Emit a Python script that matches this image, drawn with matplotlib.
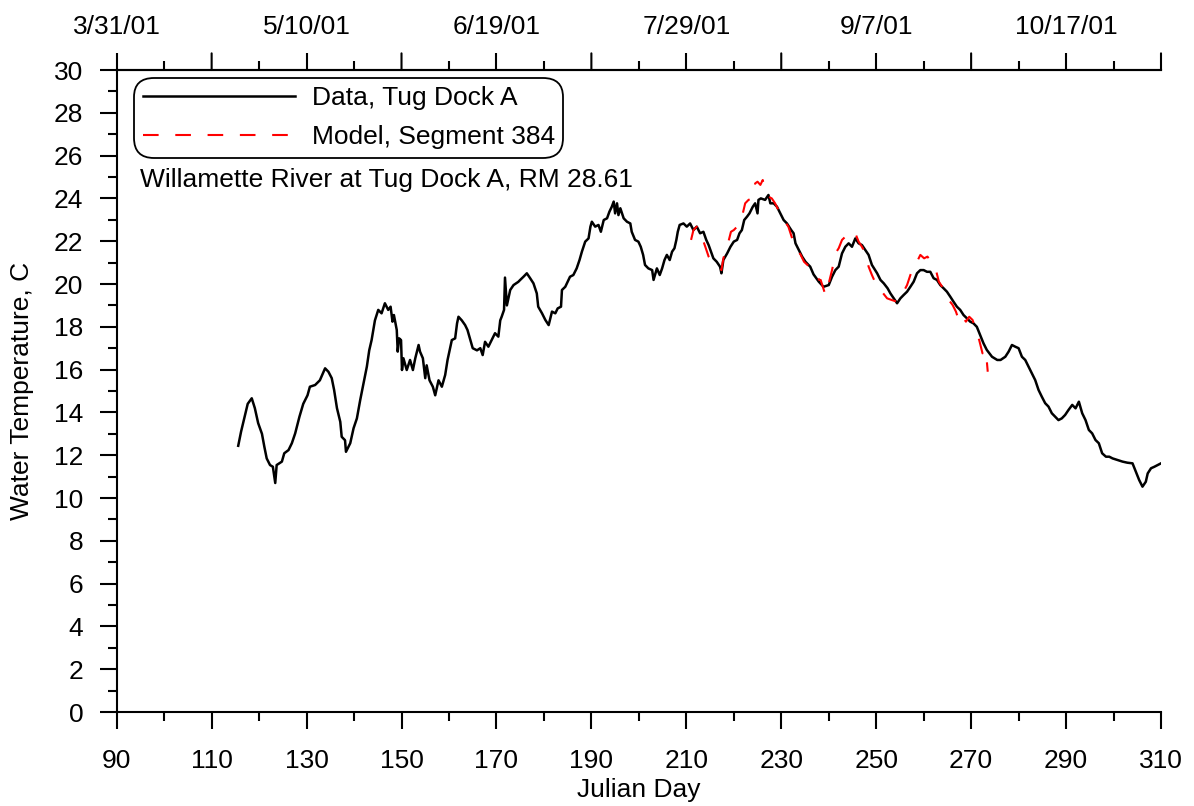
import matplotlib
matplotlib.use("Agg")
import matplotlib.pyplot as plt
from matplotlib.ticker import MultipleLocator, FixedLocator

plt.rcParams['font.family'] = ['Liberation Sans', 'DejaVu Sans']

# Observed data, Tug Dock A (Julian day, deg C)
data_day = [115.6, 116.2, 116.7, 117.2, 117.6, 118.45, 119.1, 119.8, 120.6, 121.1, 121.6, 122.3, 122.9, 123.4, 123.7,
            124.8, 125.3, 126.2, 126.9, 127.6, 128.5, 129.3, 130.2, 130.7, 131.8, 132.8, 133.9, 134.6, 135.3, 135.8,
            136.4, 137.1, 137.4, 138.1, 138.3, 139.2, 139.9, 140.6, 141.3, 142.0, 142.7, 143.2, 143.7, 144.4, 145.1,
            145.8, 146.5, 147.2, 147.7, 148.1, 148.4, 149.0, 149.2, 149.5, 149.9, 150.1, 150.4, 151.1, 151.8, 152.4,
            152.9, 153.6, 153.9, 154.5, 155.0, 155.3, 155.9, 156.6, 157.1, 157.8, 158.5, 159.2, 159.7, 160.6, 161.3,
            161.7, 162.0, 162.7, 163.4, 163.9, 164.5, 165.0, 165.9, 166.6, 167.1, 167.6, 168.3, 169.0, 169.7, 170.4,
            170.8, 171.1, 171.6, 171.8, 172.2, 172.9, 173.6, 174.6, 175.0, 175.7, 176.4, 177.1, 177.8, 178.5, 178.8,
            179.6, 180.3, 181.0, 181.7, 182.4, 182.9, 183.6, 183.8, 184.5, 185.5, 186.2, 186.9, 187.5, 188.0, 188.7,
            189.4, 189.8, 190.1, 190.8, 191.5, 192.0, 192.6, 193.3, 193.8, 194.3, 194.7, 195.0, 195.4, 195.7, 196.1,
            196.8, 197.5, 198.2, 198.5, 199.2, 199.9, 200.4, 200.9, 201.3, 202.0, 202.8, 203.1, 203.8, 204.4, 204.9,
            205.4, 205.9, 206.5, 207.0, 207.5, 207.9, 208.2, 208.6, 209.4, 210.1, 210.8, 211.5, 212.2, 212.9, 213.6,
            214.2, 214.7, 215.2, 215.7, 216.4, 217.1, 217.4, 217.8, 218.6, 219.3, 220.0, 220.7, 221.2, 221.7, 222.2,
            222.8, 223.3, 224.0, 224.5, 225.0, 225.2, 225.7, 226.6, 227.3, 227.7, 228.4, 229.1, 229.8, 230.5, 231.2,
            232.1, 232.6, 233.0, 233.7, 234.4, 235.1, 236.1, 236.8, 237.9, 238.9, 240.0, 240.7, 241.4, 242.1, 242.8,
            243.5, 244.2, 244.9, 245.6, 246.3, 247.0, 247.7, 248.4, 249.1, 250.2, 250.9, 251.6, 252.4, 253.0, 253.7,
            254.4, 255.1, 255.8, 256.5, 257.2, 257.9, 258.6, 259.3, 260.0, 260.7, 261.4, 262.1, 262.8, 263.5, 264.2,
            264.9, 265.6, 266.3, 267.0, 267.7, 268.4, 269.1, 269.8, 270.5, 271.2, 271.9, 272.6, 273.3, 274.4, 275.5,
            276.2, 277.2, 277.9, 278.6, 279.3, 280.0, 280.7, 281.4, 282.1, 282.8, 283.5, 284.2, 284.9, 285.6, 286.3,
            287.0, 287.7, 288.4, 289.1, 289.8, 290.5, 291.3, 292.0, 292.7, 293.4, 294.1, 294.8, 295.5, 296.2, 296.9,
            297.6, 298.4, 299.1, 299.8, 300.8, 301.9, 302.9, 304.0, 304.7, 305.4, 306.1, 306.8, 307.2, 307.9, 308.6,
            309.3, 310.0]
data_temp = [12.44, 13.1, 13.56, 14.03, 14.4, 14.66, 14.2, 13.5, 13.0, 12.4, 11.85, 11.54, 11.46, 10.7, 11.54,
             11.7, 12.09, 12.24, 12.56, 13.02, 13.8, 14.4, 14.8, 15.2, 15.28, 15.5, 16.06, 15.9, 15.6, 15.05,
             14.2, 13.56, 12.86, 12.7, 12.16, 12.56, 13.26, 13.72, 14.58, 15.36, 16.14, 16.9, 17.38, 18.3, 18.79,
             18.63, 19.1, 18.79, 18.94, 18.24, 18.55, 17.85, 16.84, 17.46, 17.38, 15.98, 16.53, 15.98, 16.45, 15.98,
             16.53, 17.15, 16.84, 16.53, 15.6, 16.2, 15.5, 15.2, 14.8, 15.5, 15.2, 15.75, 16.45, 17.38, 17.46,
             18.16, 18.47, 18.3, 18.08, 17.85, 17.38, 17.0, 16.9, 17.0, 16.68, 17.3, 17.07, 17.38, 17.7, 17.54,
             18.3, 18.47, 18.79, 20.3, 19.0, 19.72, 19.95, 20.1, 20.19, 20.34, 20.5, 20.27, 20.03, 19.56, 18.94,
             18.63, 18.32, 18.08, 18.71, 18.63, 18.86, 18.94, 19.72, 19.87, 20.34, 20.42, 20.73, 21.12, 21.51, 21.98,
             22.13, 22.68, 22.91, 22.68, 22.76, 22.44, 22.99, 23.07, 23.38, 23.61, 23.85, 23.3, 23.77, 23.22, 23.54,
             23.07, 22.91, 22.83, 22.44, 22.06, 21.98, 21.74, 21.36, 20.89, 20.73, 20.65, 20.19, 20.73, 20.42, 20.73,
             21.12, 21.36, 21.12, 21.51, 21.67, 22.06, 22.44, 22.76, 22.83, 22.68, 22.83, 22.52, 22.68, 22.37, 22.44,
             22.06, 21.82, 21.51, 21.2, 21.04, 20.81, 20.5, 21.12, 21.43, 21.74, 21.98, 22.06, 22.37, 22.52, 22.99,
             23.15, 23.3, 23.61, 23.77, 23.3, 23.93, 24.0, 23.93, 24.16, 23.77, 23.77, 23.61, 23.3, 22.99, 22.83,
             22.52, 22.37, 21.9, 21.59, 21.28, 21.04, 20.81, 20.45, 20.11, 19.87, 19.95, 20.34, 20.65, 20.81, 21.43,
             21.74, 21.9, 21.74, 22.13, 21.9, 21.82, 21.59, 21.36, 20.89, 20.5, 20.19, 20.03, 19.8, 19.56, 19.33,
             19.1, 19.33, 19.49, 19.64, 19.87, 20.11, 20.5, 20.65, 20.65, 20.57, 20.57, 20.27, 20.19, 19.95, 19.8,
             19.64, 19.41, 19.17, 18.94, 18.79, 18.55, 18.4, 18.24, 18.16, 18.0, 17.62, 17.23, 16.92, 16.6, 16.45,
             16.45, 16.6, 16.84, 17.15, 17.07, 17.0, 16.6, 16.45, 16.14, 15.83, 15.51, 15.05, 14.73, 14.43, 14.27,
             13.96, 13.8, 13.64, 13.72, 13.88, 14.11, 14.35, 14.19, 14.5, 13.96, 13.64, 13.18, 13.02, 12.71, 12.56,
             12.09, 11.93, 11.93, 11.85, 11.78, 11.7, 11.65, 11.62, 11.23, 10.84, 10.53, 10.76, 11.15, 11.39, 11.46,
             11.54, 11.62]

# Model, Segment 384
model_day = [211.0, 211.5, 212.2, 212.9, 213.5, 214.0, 214.7, 215.4, 216.1, 216.8, 217.4, 217.8, 218.6, 219.4,
             220.0, 220.7, 221.4, 221.9, 222.4, 223.1, 223.8, 224.2, 224.5, 225.0, 225.6, 226.1, 226.6, 227.3,
             228.0, 228.7, 229.4, 230.1, 230.8, 231.5, 232.3, 233.0, 234.1, 234.8, 235.9, 236.9, 238.0, 238.3,
             239.3, 240.0, 240.7, 241.4, 242.1, 242.8, 243.5, 244.2, 244.9, 245.6, 246.3, 247.0, 247.7, 248.4,
             249.1, 250.2, 251.2, 252.3, 253.3, 254.4, 255.4, 256.5, 257.2, 257.9, 258.6, 259.3, 260.1, 260.8,
             261.8, 262.5, 263.2, 263.9, 264.6, 265.3, 266.1, 266.8, 267.5, 268.2, 268.9, 269.6, 270.3, 271.0,
             271.7, 272.4, 273.1, 273.5]
model_temp = [22.06, 22.52, 22.68, 22.44, 22.06, 21.74, 21.28, 21.04, 20.96, 20.81, 20.65, 21.2, 21.74, 22.44,
              22.52, 22.68, 23.15, 23.3, 23.77, 23.93, 24.0, 24.23, 24.7, 24.78, 24.63, 24.86, 24.39, 24.08,
              24.0, 23.77, 23.46, 23.15, 22.91, 22.68, 22.13, 21.74, 21.36, 21.04, 20.81, 20.65, 20.19, 20.19,
              19.49, 20.03, 20.65, 21.43, 21.67, 22.06, 22.21, 22.4, 22.29, 22.37, 21.98, 21.74, 21.43, 20.81,
              20.42, 19.87, 19.64, 19.33, 19.25, 19.17, 19.49, 19.95, 20.42, 20.81, 21.04, 21.36, 21.2, 21.28,
              20.96, 20.73, 20.11, 19.87, 19.64, 19.25, 19.02, 18.71, 18.24, 18.47, 18.24, 18.47, 18.32, 17.85,
              17.38, 16.76, 16.92, 15.9]

bottom_ticks = [90, 110, 130, 150, 170, 190, 210, 230, 250, 270, 290, 310]
top_tick_pos = [90, 130, 170, 210, 250, 290]
top_tick_labels = ['3/31/01', '5/10/01', '6/19/01', '7/29/01', '9/7/01', '10/17/01']

FS = 19

fig = plt.figure(figsize=(11.94, 8.06), dpi=100)
ax = fig.add_axes([116.7 / 1194, 1 - 712 / 806, (1161 - 116.7) / 1194, (712 - 70) / 806])

ax.plot(data_day, data_temp, color='black', lw=1.8, label='Data, Tug Dock A', zorder=2)
ax.plot(model_day, model_temp, color='red', lw=1.5, linestyle=(0, (7.5, 8.0)),
        label='Model, Segment 384', zorder=3)

ax.set_xlim(90, 310)
ax.set_ylim(0, 30)
ax.xaxis.set_major_locator(FixedLocator(bottom_ticks))
ax.xaxis.set_minor_locator(MultipleLocator(10))
ax.yaxis.set_major_locator(MultipleLocator(2))
ax.yaxis.set_minor_locator(MultipleLocator(1))
ax.tick_params(which='major', direction='out', length=12, width=1.5, labelsize=FS, colors='black')
ax.tick_params(which='minor', direction='out', length=6.5, width=1.5)
ax.tick_params(axis='y', which='major', pad=12)
ax.tick_params(axis='x', which='major', pad=15)
for s in ax.spines.values():
    s.set_linewidth(1.5)
ax.spines['right'].set_visible(False)

ax.set_xlabel('Julian Day', fontsize=FS, labelpad=3)
ax.set_ylabel('Water Temperature, C', fontsize=FS, labelpad=14)

top = ax.secondary_xaxis('top')
top.xaxis.set_major_locator(FixedLocator(top_tick_pos))
top.set_xticklabels(top_tick_labels)
top.xaxis.set_minor_locator(FixedLocator([100, 120, 140, 160, 180, 200, 220, 240,
                                          260, 280, 300]))
top.tick_params(which='major', direction='out', length=12, width=1.5, labelsize=FS, pad=10.5)
top.tick_params(which='minor', direction='out', length=6.5, width=1.5)
top.spines['top'].set_linewidth(1.5)

# top axis: long unlabelled ticks at the in-between 20-day marks
for d in [110, 150, 190, 230, 270, 310]:
    ax.annotate('', xy=(d, 30), xycoords='data', xytext=(0, 12), textcoords='offset points',
                arrowprops=dict(arrowstyle='-', lw=1.5, color='black', shrinkA=0, shrinkB=0),
                annotation_clip=False)

leg = ax.legend(loc='upper left', bbox_to_anchor=(0.0226, 0.979), borderaxespad=0,
                fontsize=FS, handlelength=5.75, handletextpad=0.64, labelspacing=0.58,
                borderpad=0.1, fancybox=True, framealpha=1, edgecolor='black')
leg.get_frame().set_linewidth(1.3)
leg.get_frame().set_boxstyle('round,pad=0.22,rounding_size=0.75')

ax.text(0.0223, 0.8287, 'Willamette River at Tug Dock A, RM 28.61', transform=ax.transAxes,
        fontsize=FS, va='center', ha='left')

fig.savefig('out.png', dpi=100)
